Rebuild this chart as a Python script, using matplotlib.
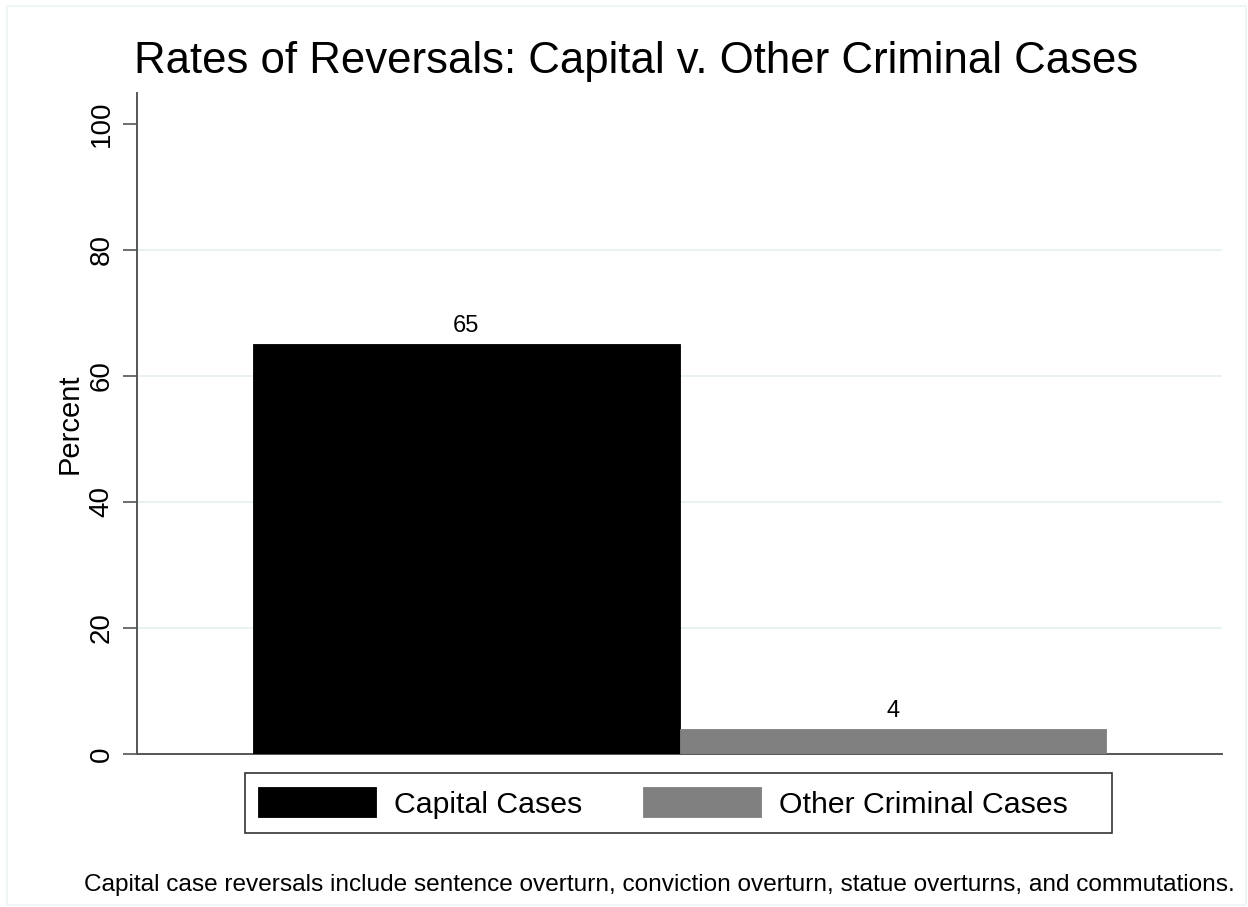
import matplotlib.pyplot as plt
from matplotlib.patches import Rectangle

# data
groups = ["Capital Cases", "Other Criminal Cases"]
percent = [65, 4]
bar_colors = ["#000000", "#808080"]
yticks = [0, 20, 40, 60, 80, 100]

plt.rcParams["font.family"] = ["Liberation Sans", "DejaVu Sans"]

fig = plt.figure(figsize=(12.48, 9.07), dpi=100)
W, H = 1248, 907
fig.patches.append(Rectangle((0.006, 0.002), 0.992, 0.991, transform=fig.transFigure,
                             fill=False, edgecolor="#eef4f5", linewidth=1.2))

ax = fig.add_axes([137 / W, 1 - 754 / H, 1085 / W, 661 / H])

xpos = list(range(len(groups)))
bars = ax.bar(xpos, percent, width=1.0, color=bar_colors, edgecolor=bar_colors,
              linewidth=0.6, label=groups, zorder=3)

for x, v in zip(xpos, percent):
    ax.annotate(f"{v}", (x, v), xytext=(0, 5), textcoords="offset points",
                ha="center", va="bottom", fontsize=17)

# horizontal grid, skipping the axis ends
for t in yticks[1:-1]:
    ax.axhline(t, color="#e6eff1", linewidth=1.2, zorder=1)

ax.set_xlim(-0.772, 1.772)
ax.set_ylim(0, 104.9)
ax.set_yticks(yticks)
ax.set_xticks([])
ax.tick_params(axis="y", length=10, width=1.2, color="#555555", labelsize=20,
               labelrotation=90, pad=6)
for lab in ax.get_yticklabels():
    lab.set_va("center")
ax.set_ylabel("Percent", fontsize=21, labelpad=4)

for side in ["top", "right"]:
    ax.spines[side].set_visible(False)
ax.spines["left"].set_color("#555555")
ax.spines["left"].set_linewidth(1.4)
ax.spines["bottom"].set_color("#555555")
ax.spines["bottom"].set_linewidth(1.4)

fig.suptitle("Rates of Reversals: Capital v. Other Criminal Cases", x=636 / W,
             y=1 - 62 / H, fontsize=31.5, va="center")

# legend entries without frame, box drawn separately (wider on the right)
leg = ax.legend(handles=bars, labels=groups, loc="center left", ncol=2,
                bbox_to_anchor=(258 / W, 1 - 803 / H), bbox_transform=fig.transFigure,
                fontsize=21.8, frameon=False,
                handlelength=3.9, handleheight=1.15, handletextpad=0.6,
                columnspacing=2.0, borderpad=0, borderaxespad=0)
fig.patches.append(Rectangle((245 / W, 1 - 833 / H), 867 / W, 60 / H,
                             transform=fig.transFigure, fill=False,
                             edgecolor="#333333", linewidth=1.2))

fig.text(659 / W, 1 - 885 / H,
         "Capital case reversals include sentence overturn, conviction overturn, "
         "statue overturns, and commutations.",
         ha="center", va="center", fontsize=17.6)

fig.savefig("out.png", dpi=100, facecolor="white")
